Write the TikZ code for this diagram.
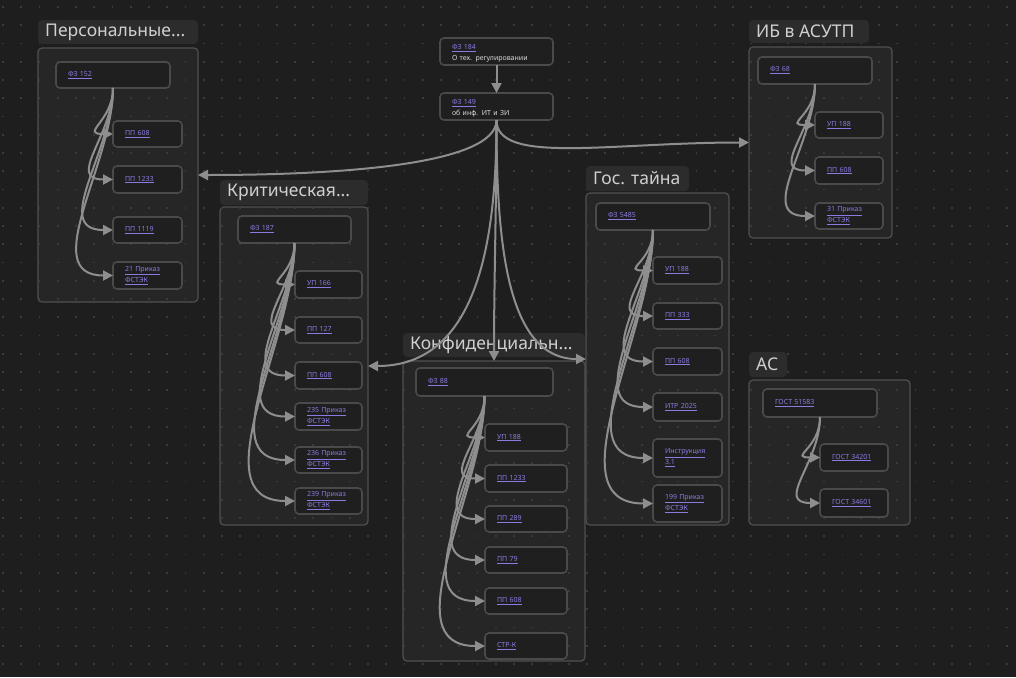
\documentclass[tikz,border=0pt]{standalone}
\usepackage{fontspec}
\setmainfont{Noto Sans}
\usetikzlibrary{arrows.meta,calc}
\definecolor{bgc}{HTML}{1E1E1E}
\definecolor{dotc}{HTML}{3A3A3A}
\definecolor{grpfill}{HTML}{262626}
\definecolor{grpline}{HTML}{505050}
\definecolor{lblfill}{HTML}{2C2C2C}
\definecolor{lbltext}{HTML}{D0D0D0}
\definecolor{cardfill}{HTML}{1F1F1F}
\definecolor{cardline}{HTML}{4A4A4A}
\definecolor{linkc}{HTML}{8B7BE0}
\definecolor{plainc}{HTML}{DADADA}
\definecolor{edgec}{HTML}{8E8E8E}
\newcommand\lk[1]{\underline{#1}}
\newcommand\mkcard[6]{\pgfmathsetmacro\cardtw{#4-24}\node[card, text width=\cardtw pt, minimum height=#5pt] (#1) at (#2,#3) {#6};}
\newcommand\mkgroup[5]{\pgfmathsetmacro\grpw{#4-#2}\pgfmathsetmacro\grph{#5-#3}\node[grp, minimum width=\grpw pt, minimum height=\grph pt] (#1) at (#2,#3) {};}
\newcommand\mklabel[6]{\fill[lblfill, rounded corners=4pt] (#2,#3) rectangle (#4,#5); \node[lbltxt] (#1) at ({#2+7},{(#3+#5)/2}) {#6};}
\newcommand\cedge[2]{\draw[conn] let \p1=(#1.south), \p2=(#2.west), \n1={20pt+0.3*(\y1-\y2)} in (\p1) .. controls +(0pt,-\n1) and +(-\n1,0pt) .. (\p2);}
\begin{document}
\begin{tikzpicture}[x=1pt,y=-1pt,
  grp/.style={draw=grpline, line width=1.2pt, fill=grpfill, rounded corners=4pt, anchor=north west, inner sep=0pt, outer sep=0pt},
  lbltxt/.style={anchor=west, text=lbltext, font=\fontsize{17.5}{20}\selectfont, inner sep=0pt},
  card/.style={draw=cardline, line width=1.6pt, fill=cardfill, rounded corners=4pt, anchor=north west, inner xsep=12pt, inner ysep=0pt, outer sep=0pt, align=left, font=\fontsize{7}{11}\selectfont, text=linkc},
  conn/.style={draw=edgec, line width=2pt, -{Triangle[length=10pt,width=10pt]}}]
\useasboundingbox (0,0) rectangle (1016,677);
\fill[bgc] (0,0) rectangle (1016,677);
% groups
\mkgroup{gP}{38}{48}{198}{302}
\mkgroup{gK}{220}{207}{368}{525}
\mkgroup{gC}{403}{361}{585}{661}
\mkgroup{gG}{586}{193}{729}{525}
\mkgroup{gI}{749}{47}{892}{238}
\mkgroup{gA}{749}{380}{910}{525}
% dot grid
\foreach \j in {0,...,36}
  \draw[dotc, line width=1.6pt, dash pattern=on 1.6pt off 16.65pt] (2.2,{7+18.25*\j}) -- (1016,{7+18.25*\j});
% labels
\mklabel{lP}{38}{20}{198}{44}{Персональные...}
\mklabel{lK}{220}{180}{368}{205}{Критическая...}
\mklabel{lC}{403}{333}{585}{357}{Конфиденциальн...}
\mklabel{lG}{586}{166}{689}{191}{Гос. тайна}
\mklabel{lI}{749}{20}{869}{43}{ИБ в АСУТП}
\mklabel{lA}{749}{352}{787}{377}{АС}
% top nodes
\mkcard{f184}{440}{38}{113}{27}{\fontsize{7}{10}\selectfont\rule{0pt}{9pt}\lk{ФЗ 184}\\\textcolor{plainc}{О тех. регулировании}}
\mkcard{f149}{440}{93}{113}{27}{\fontsize{7}{10}\selectfont\rule{0pt}{9pt}\lk{ФЗ 149}\\\textcolor{plainc}{об инф. ИТ и ЗИ}}
% P
\mkcard{fz152}{56}{62}{114}{26}{\lk{ФЗ 152}}
\mkcard{p608}{113}{121}{69}{26}{\lk{ПП 608}}
\mkcard{p1233}{113}{166}{69}{27}{\lk{ПП 1233}}
\mkcard{p1119}{113}{217}{69}{26}{\lk{ПП 1119}}
\mkcard{p21}{113}{262}{69}{27}{\lk{21 Приказ}\\\lk{ФСТЭК}}
% K
\mkcard{fz187}{238}{216}{113}{27}{\lk{ФЗ 187}}
\mkcard{k166}{295}{271}{67}{27}{\lk{УП 166}}
\mkcard{k127}{295}{317}{67}{26}{\lk{ПП 127}}
\mkcard{k608}{295}{362}{67}{27}{\lk{ПП 608}}
\mkcard{k235}{295}{403}{67}{27}{\lk{235 Приказ}\\\lk{ФСТЭК}}
\mkcard{k236}{295}{447}{67}{26}{\lk{236 Приказ}\\\lk{ФСТЭК}}
\mkcard{k239}{295}{488}{67}{26}{\lk{239 Приказ}\\\lk{ФСТЭК}}
% C
\mkcard{fz88}{416}{368}{137}{28}{\lk{ФЗ 88}}
\mkcard{c188}{485}{424}{82}{27}{\lk{УП 188}}
\mkcard{c1233}{485}{465}{82}{27}{\lk{ПП 1233}}
\mkcard{c289}{485}{506}{82}{26}{\lk{ПП 289}}
\mkcard{c79}{485}{547}{82}{26}{\lk{ПП 79}}
\mkcard{c608}{485}{588}{82}{26}{\lk{ПП 608}}
\mkcard{cstr}{485}{633}{82}{26}{\lk{СТР-К}}
% G
\mkcard{fz5485}{596}{203}{114}{27}{\lk{ФЗ 5485}}
\mkcard{g188}{653}{257}{69}{27}{\lk{УП 188}}
\mkcard{g333}{653}{303}{69}{26}{\lk{ПП 333}}
\mkcard{g608}{653}{348}{69}{27}{\lk{ПП 608}}
\mkcard{gitr}{653}{393}{69}{28}{\lk{ИТР 2025}}
\mkcard{gins}{653}{439}{69}{38}{\lk{Инструкция}\\\lk{3.1}}
\mkcard{g199}{653}{485}{69}{37}{\lk{199 Приказ}\\\lk{ФСТЭК}}
% I
\mkcard{fz68}{758}{57}{114}{27}{\lk{ФЗ 68}}
\mkcard{i188}{815}{112}{68}{26}{\lk{УП 188}}
\mkcard{i608}{815}{157}{68}{27}{\lk{ПП 608}}
\mkcard{i31}{815}{203}{68}{26}{\lk{31 Приказ}\\\lk{ФСТЭК}}
% A
\mkcard{g51583}{763}{389}{114}{28}{\lk{ГОСТ 51583}}
\mkcard{a34201}{820}{444}{68}{27}{\lk{ГОСТ 34201}}
\mkcard{a34601}{820}{489}{68}{28}{\lk{ГОСТ 34601}}
% edges inside groups
\cedge{fz152}{p608}\cedge{fz152}{p1233}\cedge{fz152}{p1119}\cedge{fz152}{p21}
\cedge{fz187}{k166}\cedge{fz187}{k127}\cedge{fz187}{k608}\cedge{fz187}{k235}\cedge{fz187}{k236}\cedge{fz187}{k239}
\cedge{fz88}{c188}\cedge{fz88}{c1233}\cedge{fz88}{c289}\cedge{fz88}{c79}\cedge{fz88}{c608}\cedge{fz88}{cstr}
\cedge{fz5485}{g188}\cedge{fz5485}{g333}\cedge{fz5485}{g608}\cedge{fz5485}{gitr}\cedge{fz5485}{gins}\cedge{fz5485}{g199}
\cedge{fz68}{i188}\cedge{fz68}{i608}\cedge{fz68}{i31}
\cedge{g51583}{a34201}\cedge{g51583}{a34601}
% top edges
\draw[conn] (f184.south) -- (f149.north);
\draw[conn] (f149.south) .. controls +(0,45) and +(140,0) .. (gP.east);
\draw[conn] (f149.south) .. controls +(0,45) and +(-140,0) .. (gI.west);
\draw[conn] (f149.south) .. controls +(0,120) and +(110,0) .. (gK.east);
\draw[conn] (f149.south) .. controls +(0,80) and +(0,-80) .. (gC.north);
\draw[conn] (f149.south) .. controls +(0,120) and +(-80,0) .. (gG.west);
\end{tikzpicture}
\end{document}
